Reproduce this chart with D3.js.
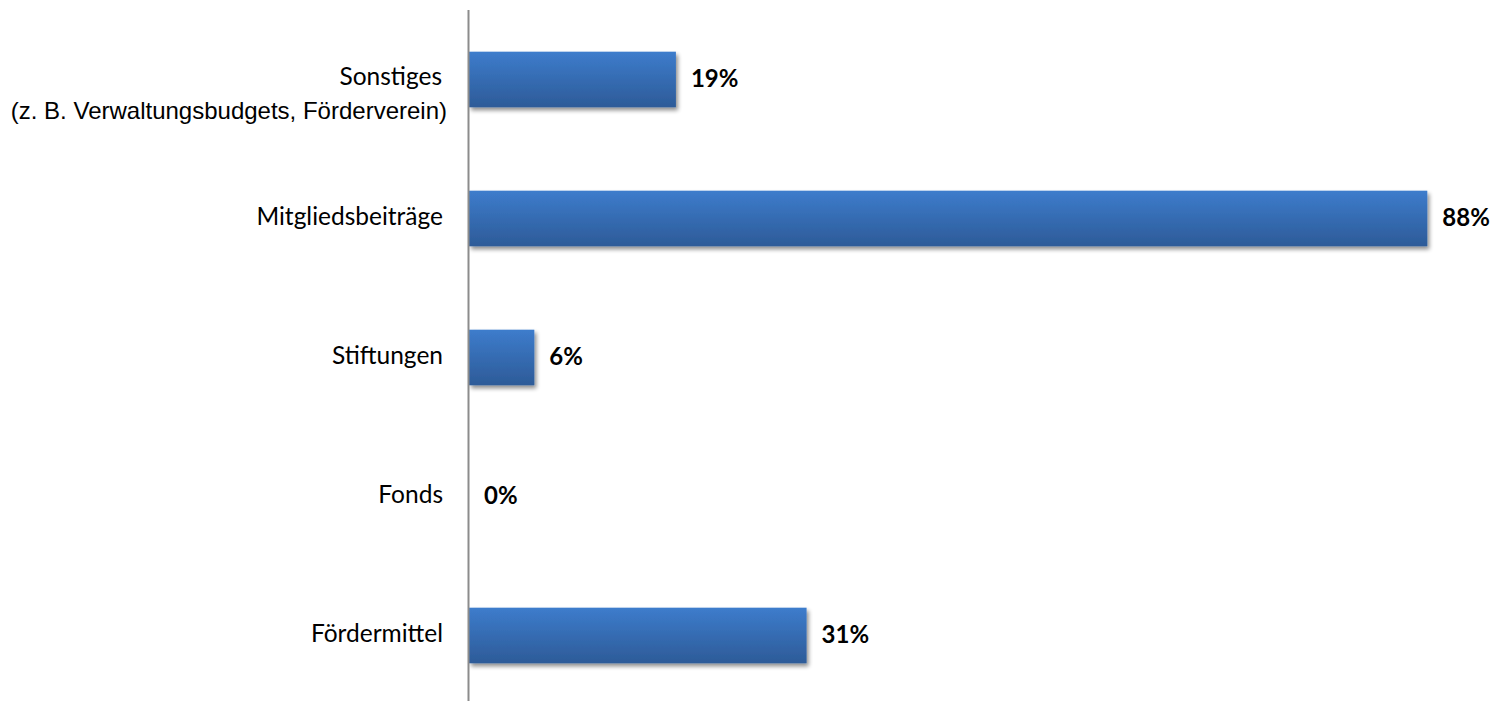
<!DOCTYPE html>
<html>
<head>
<meta charset="utf-8">
<script src="https://cdn.jsdelivr.net/npm/d3@7"></script>
<style>
  html, body { margin: 0; padding: 0; background: #fff; }
  svg { display: block; }
</style>
</head>
<body>
<div id="chart"></div>
<script>
// Funding sources, listed top to bottom
const categories = ["Sonstiges", "Mitgliedsbeiträge", "Stiftungen", "Fonds", "Fördermittel"];
const values = [19, 88, 6, 0, 31];
const subLabels = ["(z. B. Verwaltungsbudgets, Förderverein)", "", "", "", ""];

const W = 1493, H = 701;
const axisX = 468.5;

const svg = d3.select("#chart").append("svg")
  .attr("width", W).attr("height", H);

const defs = svg.append("defs");
const grad = defs.append("linearGradient")
  .attr("id", "barGrad").attr("x1", 0).attr("y1", 0).attr("x2", 0).attr("y2", 1);
grad.append("stop").attr("offset", "0%").attr("stop-color", "#3d7ccc");
grad.append("stop").attr("offset", "100%").attr("stop-color", "#2d5b98");

const shadow = defs.append("filter").attr("id", "shadow")
  .attr("x", "-10%").attr("y", "-20%").attr("width", "130%").attr("height", "160%");
shadow.append("feGaussianBlur").attr("in", "SourceAlpha").attr("stdDeviation", 2.2).attr("result", "b");
shadow.append("feOffset").attr("in", "b").attr("dx", 2).attr("dy", 3).attr("result", "o");
shadow.append("feComponentTransfer").attr("in", "o").attr("result", "s")
  .append("feFuncA").attr("type", "linear").attr("slope", 0.45);
const merge = shadow.append("feMerge");
merge.append("feMergeNode").attr("in", "s");
merge.append("feMergeNode").attr("in", "SourceGraphic");

const y = d3.scaleBand()
  .domain(categories)
  .range([10, 705])
  .paddingInner(0.6)
  .paddingOuter(0.3);

const x = d3.scaleLinear()
  .domain([0, 100])
  .range([469, 469 + 1089]);

const data = categories.map((c, i) => ({ cat: c, value: values[i], sub: subLabels[i] }));

// bars
svg.append("g").selectAll("rect")
  .data(data.filter(d => d.value > 0))
  .join("rect")
  .attr("x", x(0))
  .attr("y", d => y(d.cat))
  .attr("width", d => x(d.value) - x(0))
  .attr("height", y.bandwidth())
  .attr("fill", "url(#barGrad)")
  .attr("filter", "url(#shadow)");

// category axis line
svg.append("line")
  .attr("x1", axisX).attr("x2", axisX)
  .attr("y1", 10).attr("y2", H)
  .attr("stroke", "#8c8c8c").attr("stroke-width", 2);

// category labels
const labels = svg.append("g")
  .attr("font-family", "Lato, 'Open Sans', sans-serif")
  .attr("font-size", 24.5)
  .attr("fill", "#000");

data.forEach(d => {
  const cy = y(d.cat) + y.bandwidth() / 2;
  if (d.sub) {
    labels.append("text")
      .attr("x", 442).attr("y", cy - 1)
      .attr("text-anchor", "end")
      .attr("dominant-baseline", "middle")
      .text(d.cat);
    labels.append("text")
      .attr("x", 447).attr("y", cy + 33)
      .attr("text-anchor", "end")
      .attr("dominant-baseline", "middle")
      .attr("font-family", "'Liberation Sans', Arial, sans-serif")
      .attr("font-size", 24)
      .text(d.sub);
  } else {
    labels.append("text")
      .attr("x", 443).attr("y", cy)
      .attr("text-anchor", "end")
      .attr("dominant-baseline", "middle")
      .text(d.cat);
  }
});

// value labels
svg.append("g")
  .attr("font-family", "Lato, 'Open Sans', sans-serif")
  .attr("font-size", 24)
  .attr("font-weight", "bold")
  .attr("fill", "#000")
  .selectAll("text")
  .data(data)
  .join("text")
  .attr("x", d => x(d.value) + 15)
  .attr("y", d => y(d.cat) + y.bandwidth() / 2 + 1)
  .attr("dominant-baseline", "middle")
  .text(d => d.value + "%");
</script>
</body>
</html>
